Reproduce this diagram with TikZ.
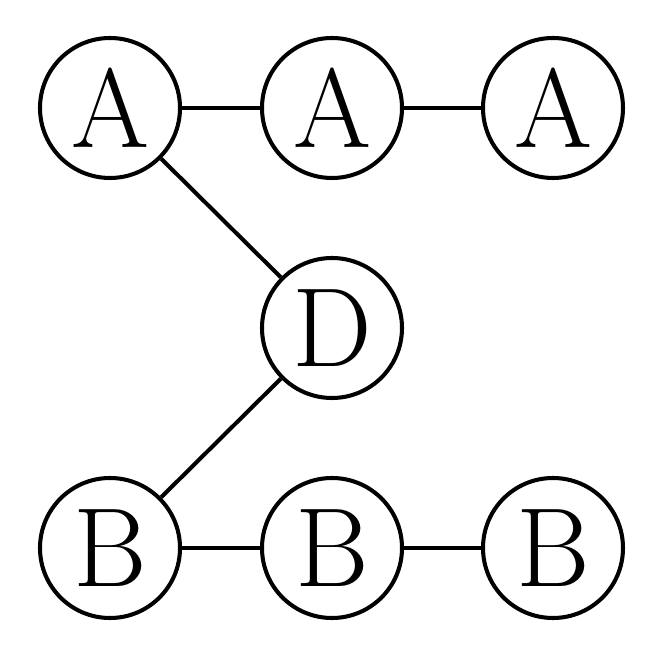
\documentclass[tikz,border=0pt]{standalone}
\usepackage{tikz}
\usetikzlibrary{positioning}

\begin{document}
\begin{tikzpicture}[text=black,
	atom/.style={circle, draw, line width=2.3pt, minimum size=2.8cm, inner sep=0pt,
		font=\fontsize{64}{64}\selectfont},
	bond/.style={line width=2.3pt}]
	\def \colone {2.2}
\def \coltwo {6.64}
\def \colthree {11.06}
\def \rowtop {11.12}
\def \rowmid {6.72}
\def \rowbot {2.32}

\useasboundingbox (0,0) rectangle (13.28,13.28);

%top row
\node[atom] (aone) at (\colone,\rowtop) {A};
\node[atom] (atwo) at (\coltwo,\rowtop) {A};
\node[atom] (athree) at (\colthree,\rowtop) {A};
%middle
\node[atom] (dmid) at (\coltwo,\rowmid) {D};
%bottom row
\node[atom] (bone) at (\colone,\rowbot) {B};
\node[atom] (btwo) at (\coltwo,\rowbot) {B};
\node[atom] (bthree) at (\colthree,\rowbot) {B};

%bonds
\draw[bond] (aone) -- (atwo);
\draw[bond] (atwo) -- (athree);
\draw[bond] (aone) -- (dmid);
\draw[bond] (dmid) -- (bone);
\draw[bond] (bone) -- (btwo);
\draw[bond] (btwo) -- (bthree);

	\end{tikzpicture}
\end{document}
